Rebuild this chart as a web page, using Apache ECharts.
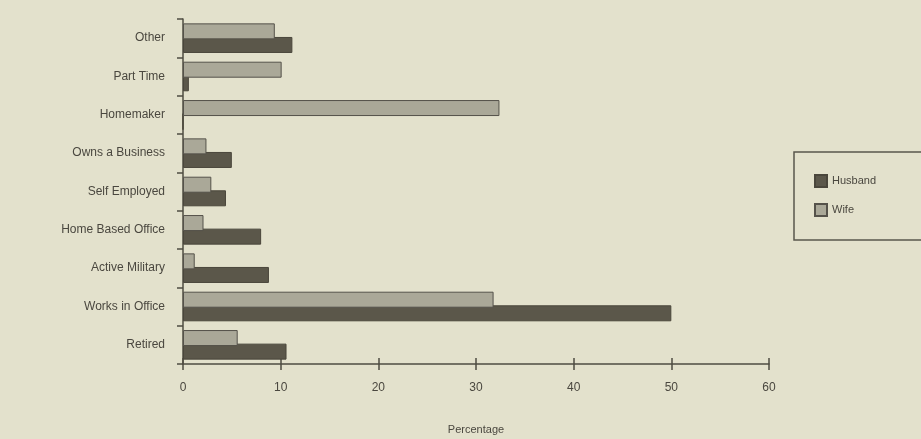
<!DOCTYPE html>
<html>
<head>
<meta charset="utf-8">
<script src="https://cdn.jsdelivr.net/npm/echarts@6/dist/echarts.min.js"></script>
<style>
html,body{margin:0;padding:0;background:#e3e1cc;}
#chart{width:921px;height:439px;}
</style>
</head>
<body>
<div id="chart"></div>
<script>
const categories = ['Retired','Works in Office','Active Military','Home Based Office','Self Employed','Owns a Business','Homemaker','Part Time','Other'];
const husbandValues = [10.6, 50.0, 8.8, 8.0, 4.4, 5.0, 0, 0.6, 11.2];
const wifeValues = [5.6, 31.8, 1.2, 2.1, 2.9, 2.4, 32.4, 10.1, 9.4];
const xTicks = [0, 10, 20, 30, 40, 50, 60];

const textColor = '#4a473f';
const lineColor = '#4f4c42';
const chart = echarts.init(document.getElementById('chart'));
chart.setOption({
  backgroundColor: '#e3e1cc',
  animation: false,
  textStyle: { fontFamily: 'Liberation Sans, Arial, sans-serif' },
  grid: { left: 183, top: 19, right: 152, bottom: 75, containLabel: false, outerBoundsMode: 'none' },
  legend: {
    orient: 'vertical',
    left: 794, top: 152,
    padding: [22, 60, 23, 20],
    itemGap: 15,
    itemWidth: 12, itemHeight: 12,
    icon: 'rect',
    borderColor: '#5a574c', borderWidth: 1.5,
    textStyle: { color: textColor, fontSize: 11 },
    data: ['Husband', 'Wife']
  },
  xAxis: [{
    type: 'value', min: xTicks[0], max: xTicks[xTicks.length-1], interval: 10,
    name: 'Percentage', nameLocation: 'middle', nameGap: 60,
    nameTextStyle: { color: textColor, fontSize: 11 },
    axisLine: { show: true, lineStyle: { color: lineColor, width: 1.5 } },
    axisTick: { show: true, length: 6, lineStyle: { color: lineColor, width: 1.5 } },
    axisLabel: { color: textColor, fontSize: 12, margin: 18 },
    splitLine: { show: false }
  }, {
    type: 'value', min: xTicks[0], max: xTicks[xTicks.length-1], interval: 10,
    position: 'bottom', gridIndex: 0,
    axisLine: { show: false },
    axisTick: { show: true, inside: true, length: 6, lineStyle: { color: lineColor, width: 1.5 } },
    axisLabel: { show: false },
    splitLine: { show: false }
  }],
  yAxis: {
    type: 'category', data: categories,
    axisLine: { show: true, lineStyle: { color: lineColor, width: 1.5 } },
    axisTick: { show: true, length: 6, lineStyle: { color: lineColor, width: 1.5 } },
    axisLabel: { color: textColor, fontSize: 12, margin: 18 }
  },
  series: [{
    name: 'Wife', type: 'bar', data: wifeValues,
    barWidth: 16, barGap: '-15%', z: 3,
    itemStyle: { color: '#aaa898', borderColor: '#55524a', borderWidth: 1 }
  }, {
    name: 'Husband', type: 'bar', data: husbandValues,
    barWidth: 16, z: 2,
    itemStyle: { color: '#5b574a', borderColor: '#4a463b', borderWidth: 1 }
  }]
});
</script>
</body>
</html>
